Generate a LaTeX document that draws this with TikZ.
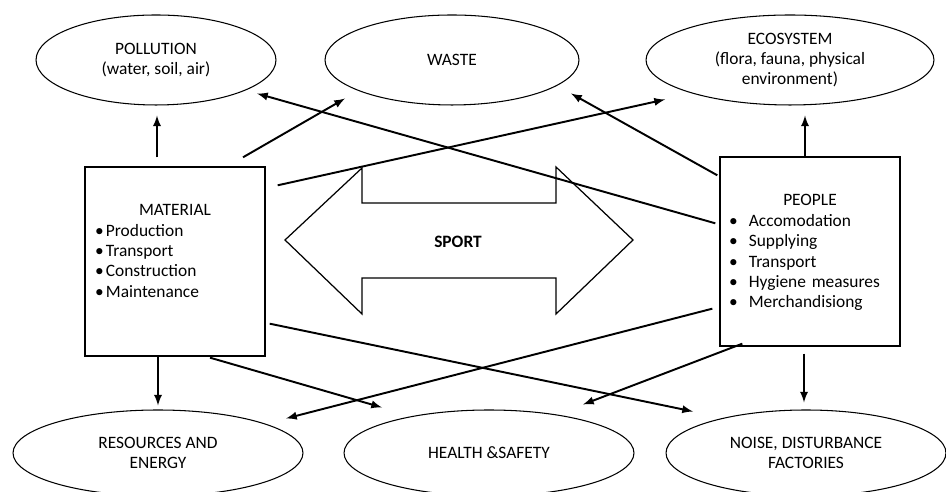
\documentclass[tikz,border=0pt]{standalone}
\usepackage{fontspec}
\setmainfont{Carlito}
\usetikzlibrary{arrows,shapes.geometric,positioning}

\begin{document}
\begin{tikzpicture}[x=0.02cm,y=0.02cm,font=\fontsize{9.9}{11.6}\selectfont]
  % Local definitions
  \def\matbullet{\makebox[6.2pt][l]{\textbullet}}
  \def\peobullet{\makebox[11.3pt][l]{\textbullet}}

  % Styles
  \tikzstyle{effect}=[draw,ellipse,line width=0.6pt,inner sep=0pt,align=center]
  \tikzstyle{source}=[draw,rectangle,line width=0.8pt,minimum width=3.6cm,minimum height=3.78cm]
  \tikzstyle{source text}=[inner sep=0pt,text width=3.2cm,align=left]
  \tikzstyle{impact}=[-latex,line width=1.1pt]

  \useasboundingbox (0,0) rectangle (946,492);
  \clip (0,0) rectangle (946,492);

  % The effects
  \node[effect,minimum width=4.8cm,minimum height=1.8cm] (pol) at (156,432)
    {POLLUTION\\(water, soil, air)};
  \node[effect,minimum width=5.08cm,minimum height=1.8cm] (waste) at (452,432) {WASTE};
  \node[effect,minimum width=5.76cm,minimum height=1.8cm] (eco) at (790,432)
    {ECOSYSTEM\\(flora, fauna, physical\\environment)};
  \node[effect,minimum width=5.8cm,minimum height=1.72cm] (res) at (158,39)
    {RESOURCES AND\\ENERGY};
  \node[effect,minimum width=5.8cm,minimum height=1.72cm] (hs) at (489,39) {HEALTH \&SAFETY};
  \node[effect,minimum width=5.6cm,minimum height=1.72cm] (noise) at (806,39)
    {NOISE, DISTURBANCE\\FACTORIES};

  % The sources
  \node[source] (mat) at (175,230.5) {};
  \node[source] (peo) at (810,240.5) {};
  \node[source text,below=0.76cm of mat.north] (mattext)
    {
      \makebox[\linewidth]{MATERIAL}\\
      \matbullet Production\\
      \matbullet Transport\\
      \matbullet Construction\\
      \matbullet Maintenance
    };
  \node[source text,text width=3.24cm,below=0.76cm of peo.north] (peotext)
    {
      \makebox[\linewidth]{PEOPLE}\\
      \peobullet Accomodation\\
      \peobullet Supplying\\
      \peobullet Transport\\
      \peobullet Hygiene measures\\
      \peobullet Merchandisiong
    };

  % Sport
  \draw[line width=0.7pt] (285,252) -- (362,324) -- (362,289) -- (556,289) -- (556,325)
    -- (633,252) -- (556,178) -- (556,214) -- (362,214) -- (362,178) -- cycle;
  \node (sport) at (458,250) {\bfseries SPORT};

  % Impacts
  \draw[impact] ([shift={(-18,9)}]mat.north) -- ([shift={(1,-10)}]pol.south);
  \draw[impact] ([shift={(68,9)}]mat.north) -- ([shift={(-107,7)}]waste.south);
  \draw[impact] ([shift={(12,-19)}]mat.north east) -- ([shift={(-125,6)}]eco.south);
  \draw[impact] ([shift={(-4,-67)}]peo.north west) -- ([shift={(101,12)}]pol.south);
  \draw[impact] ([shift={(-2,-19)}]peo.north west) -- ([shift={(119,12)}]waste.south);
  \draw[impact] ([shift={(-5,0)}]peo.north) -- ([shift={(15,-10)}]eco.south);
  \draw[impact] ([shift={(-17,0)}]mat.south) -- ([shift={(0,4)}]res.north);
  \draw[impact] ([shift={(35,-1)}]mat.south) -- ([shift={(-107,2)}]hs.north);
  \draw[impact] ([shift={(4,33)}]mat.south east) -- ([shift={(-113,-2)}]noise.north);
  \draw[impact] ([shift={(-7,38)}]peo.south west) -- ([shift={(128,-9)}]res.north);
  \draw[impact] ([shift={(23,3)}]peo.south west) -- ([shift={(94,5)}]hs.north);
  \draw[impact] ([shift={(-6,-7)}]peo.south) -- ([shift={(-2,7)}]noise.north);
\end{tikzpicture}
\end{document}
